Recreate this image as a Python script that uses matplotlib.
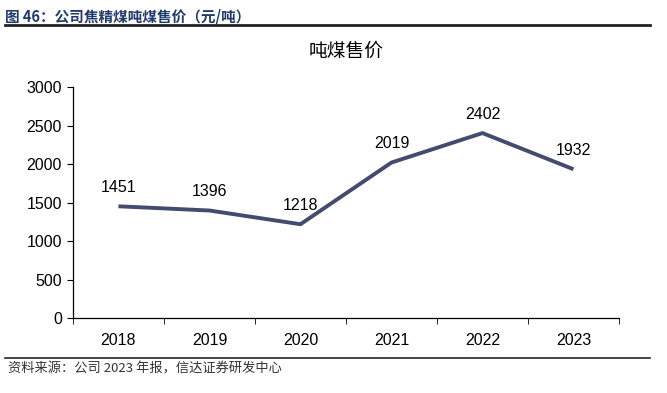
import matplotlib
matplotlib.use("Agg")
import matplotlib.pyplot as plt
from matplotlib.lines import Line2D

plt.rcParams["font.family"] = ["Liberation Sans", "Noto Sans CJK SC", "DejaVu Sans"]

years = ["2018", "2019", "2020", "2021", "2022", "2023"]
price = [1451, 1396, 1218, 2019, 2402, 1932]

header = "图 46：公司焦精煤吨煤售价（元/吨）"
title = "吨煤售价"
source = "资料来源：公司 2023 年报，信达证券研发中心"

fig = plt.figure(figsize=(6.67, 3.93), dpi=100)
ax = fig.add_axes([0.1094, 0.1908, 0.8186, 0.5878])

x = list(range(len(years)))
ax.plot(x, price, color="#434c6e", linewidth=2.8, solid_capstyle="butt")
for xi, v in zip(x, price):
    ax.annotate(str(v), (xi, v), xytext=(0, 8), textcoords="offset points",
                ha="center", va="bottom", fontsize=11.5)

ax.set_xlim(-0.5, len(years) - 0.5)
ax.set_ylim(0, 3000)
ax.set_yticks(range(0, 3001, 500))
ax.set_xticks(x)
ax.set_xticklabels(years)
ax.set_xticks([i - 0.5 for i in range(len(years) + 1)], minor=True)
ax.tick_params(axis="x", which="major", length=0, pad=11, labelsize=11.5)
ax.tick_params(axis="x", which="minor", length=4, direction="out")
ax.tick_params(axis="y", length=4, direction="out", labelsize=11.5, pad=4)
for s in ["top", "right"]:
    ax.spines[s].set_visible(False)
ax.spines["left"].set_linewidth(0.9)
ax.spines["bottom"].set_linewidth(0.9)

ax.set_title(title, fontsize=13.5, pad=22, family=["Noto Sans CJK SC", "DejaVu Sans"])

fig.text(0.008, 0.978, header, fontsize=10.5, fontweight="bold", color="#1f3a6b",
         va="top", family=["Noto Sans CJK SC", "DejaVu Sans"])
fig.add_artist(Line2D([0.008, 0.975], [0.936, 0.936], color="#222222", linewidth=2.0,
                      transform=fig.transFigure))
fig.add_artist(Line2D([0.008, 0.975], [0.089, 0.089], color="#222222", linewidth=1.2,
                      transform=fig.transFigure))
fig.text(0.012, 0.062, source, fontsize=9.5, style="italic", color="#333333",
         va="center", family=["Noto Sans CJK SC", "DejaVu Sans"])

fig.savefig("out.png", dpi=100)
